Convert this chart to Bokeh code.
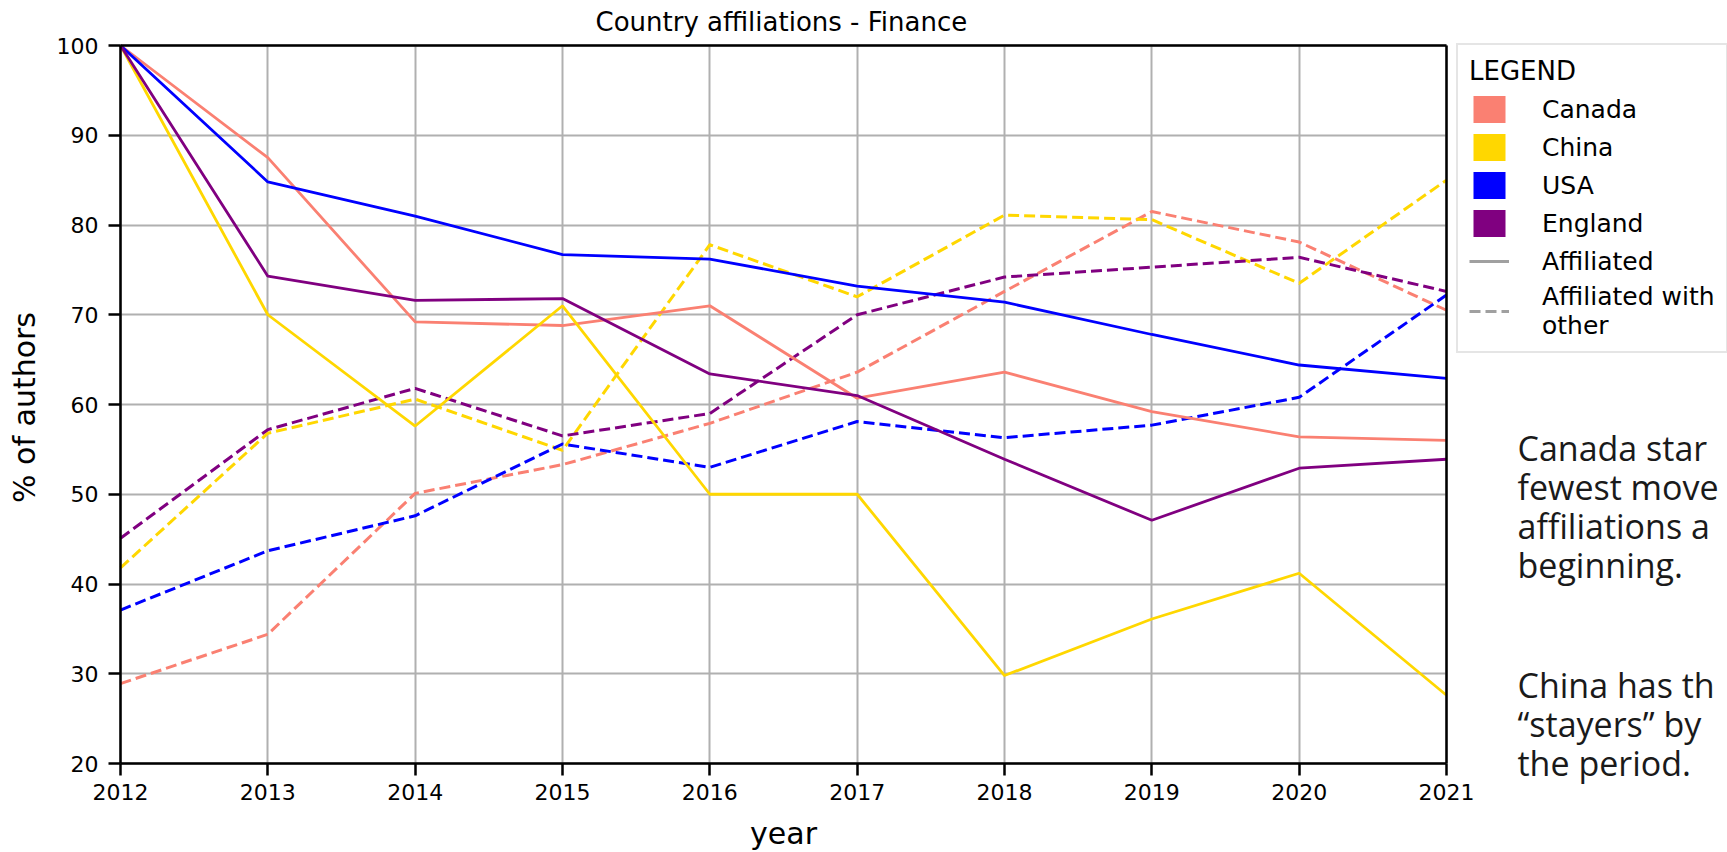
import math
from bokeh.plotting import figure
from bokeh.models import (Range1d, FixedTicker, Legend, LegendItem, Label,
                          LinearAxis, Grid, BoxAnnotation)
from bokeh.embed import file_html
from bokeh.resources import INLINE

years = [2012, 2013, 2014, 2015, 2016, 2017, 2018, 2019, 2020, 2021]

canada_aff = [100, 87.5, 69.2, 68.8, 71.0, 60.7, 63.6, 59.2, 56.4, 56.0]
canada_other = [28.9, 34.4, 50.1, 53.3, 57.9, 63.6, 72.6, 81.5, 78.1, 70.5]
china_aff = [100, 70.0, 57.6, 71.0, 50.0, 50.0, 29.8, 36.1, 41.2, 27.6]
china_other = [41.8, 56.8, 60.6, 54.9, 77.8, 72.0, 81.1, 80.6, 73.5, 85.0]
usa_aff = [100, 84.8, 81.0, 76.7, 76.2, 73.2, 71.4, 67.8, 64.4, 62.9]
usa_other = [37.1, 43.7, 47.6, 55.6, 53.0, 58.1, 56.3, 57.7, 60.8, 72.2]
england_aff = [100, 74.3, 71.6, 71.8, 63.4, 61.0, 53.9, 47.1, 52.9, 53.9]
england_other = [45.1, 57.2, 61.8, 56.5, 59.0, 70.0, 74.2, 75.3, 76.4, 72.6]

countries = ["Canada", "China", "USA", "England"]
colors = ["#FA8072", "#FFD700", "#0000FF", "#800080"]
affiliated = [canada_aff, china_aff, usa_aff, england_aff]
other = [canada_other, china_other, usa_other, england_other]

y_ticks = [20, 30, 40, 50, 60, 70, 80, 90, 100]
y_min, y_max = 20, 100

title_text = "Country affiliations - Finance"
x_label = "year"
y_label = "% of authors"
legend_title = "LEGEND"
style_labels = ["Affiliated", "Affiliated with\nother"]
note_par1 = ["Canada star", "fewest move", "affiliations a", "beginning."]
note_par2 = ["China has th", "\u201cstayers\u201d by", "the period."]

FONT = "DejaVu Sans"

# ---- layout in pixels ----
W, H = 1727, 852
FRAME_TOP = 36              # frame starts just below the title
PLOT_L, PLOT_R = 120, 1446  # x pixel of 2012 and 2021
PLOT_T, PLOT_B = 45, 763    # y pixel of 100 and 20
px_per_year = (PLOT_R - PLOT_L) / (years[-1] - years[0])
px_per_unit = (PLOT_B - PLOT_T) / (y_max - y_min)
x_start = years[0] - PLOT_L / px_per_year
x_end = years[0] + (W - PLOT_L) / px_per_year
y_start = y_min - (H - PLOT_B) / px_per_unit
y_end = y_max + (PLOT_T - FRAME_TOP) / px_per_unit

p = figure(width=W, height=H, output_backend="svg", toolbar_location=None,
           x_range=Range1d(x_start, x_end), y_range=Range1d(y_start, y_end),
           min_border_left=0, min_border_right=0, min_border_top=FRAME_TOP,
           min_border_bottom=0)
p.title.text = title_text
p.title.align = "left"
p.title.offset = 595
p.title.text_font = FONT
p.title.text_font_size = "26px"
p.title.text_font_style = "normal"
p.title.text_color = "black"
p.title.standoff = 0

p.background_fill_color = "white"
p.border_fill_color = "white"
p.outline_line_color = None

xb = (years[0], years[-1])
yb = (y_min, y_max)

xax = p.xaxis[0]
yax = p.yaxis[0]
xax.fixed_location = y_min
xax.bounds = xb
yax.fixed_location = years[0]
yax.bounds = yb

for ax in (xax, yax):
    ax.axis_line_color = "black"
    ax.axis_line_width = 2.5
    ax.major_tick_line_color = "black"
    ax.major_tick_line_width = 2.5
    ax.major_tick_in = 0
    ax.major_tick_out = 12
    ax.minor_tick_line_color = None
    ax.major_label_text_font = FONT
    ax.major_label_text_font_size = "22px"
    ax.major_label_text_color = "black"

xax.ticker = FixedTicker(ticks=years)
yax.ticker = FixedTicker(ticks=y_ticks)
xax.major_label_standoff = 8
yax.major_label_standoff = 10

# top and right spines, limited to the data box
top_axis = LinearAxis(fixed_location=y_max, bounds=xb, ticker=FixedTicker(ticks=[]),
                      axis_line_color="black", axis_line_width=2.5,
                      major_tick_line_color=None, minor_tick_line_color=None,
                      major_label_text_font_size="0px")
p.add_layout(top_axis, "above")
right_axis = LinearAxis(fixed_location=years[-1], bounds=yb, ticker=FixedTicker(ticks=[]),
                        axis_line_color="black", axis_line_width=2.5,
                        major_tick_line_color=None, minor_tick_line_color=None,
                        major_label_text_font_size="0px")
p.add_layout(right_axis, "right")

p.xgrid.ticker = FixedTicker(ticks=years)
p.ygrid.ticker = FixedTicker(ticks=y_ticks)
for g in (p.xgrid[0], p.ygrid[0]):
    g.grid_line_color = "#b0b0b0"
    g.grid_line_width = 2
if "cross_bounds" in Grid.properties():
    p.xgrid[0].cross_bounds = yb
    p.ygrid[0].cross_bounds = xb
else:
    # mask grid lines outside of the data box
    for kw in (dict(left=years[-1]), dict(right=years[0]), dict(top=y_min), dict(bottom=y_max)):
        p.add_layout(BoxAnnotation(fill_color="white", fill_alpha=1, line_color=None,
                                   level="underlay", **kw))

for c, o in zip(colors, other):
    p.line(years, o, line_color=c, line_width=3, line_dash="11 5")
for c, a in zip(colors, affiliated):
    p.line(years, a, line_color=c, line_width=2.8)

# axis titles (labels centred on the data box)
p.add_layout(Label(x=(PLOT_L + PLOT_R) / 2, y=H - 833, x_units="screen", y_units="screen",
                   text=x_label, text_font=FONT, text_font_size="30px",
                   text_align="center", text_baseline="alphabetic", text_color="black"))
p.add_layout(Label(x=24, y=H - 407, x_units="screen", y_units="screen",
                   text=y_label, text_font=FONT, text_font_size="30px", angle=math.pi / 2,
                   text_align="center", text_baseline="middle", text_color="black"))

# legend
nan = float("nan")
items = []
for name, c in zip(countries, colors):
    r = p.quad(left=[nan], right=[nan], top=[nan], bottom=[nan], fill_color=c, line_color=None)
    items.append(LegendItem(label=name, renderers=[r]))
r_solid = p.line([nan], [nan], line_color="#a0a0a0", line_width=3)
r_dash = p.line([nan], [nan], line_color="#a0a0a0", line_width=3, line_dash="11 5")
items.append(LegendItem(label=style_labels[0], renderers=[r_solid]))
items.append(LegendItem(label=style_labels[1], renderers=[r_dash]))

legend = Legend(items=items, location=(1456, H - 353), title=legend_title)
legend.glyph_width = 40
legend.glyph_height = 34
legend.spacing = 4
legend.label_standoff = 33
legend.padding = 11
legend.margin = 0
legend.title_standoff = 6
legend.label_text_font = FONT
legend.label_text_font_size = "25px"
legend.label_text_color = "black"
legend.label_text_line_height = 1.25
legend.title_text_font = FONT
legend.title_text_font_size = "26px"
legend.title_text_font_style = "normal"
legend.title_text_color = "black"
legend.border_line_color = "#cccccc"
legend.border_line_width = 2
legend.background_fill_color = "white"
legend.background_fill_alpha = 1
p.add_layout(legend)

# side note
NOTE_X = 1517
LINE_PITCH = 39.3
for start, lines in ((447, note_par1), (684, note_par2)):
    for i, t in enumerate(lines):
        p.add_layout(Label(x=NOTE_X, y=H - (start + i * LINE_PITCH), x_units="screen",
                           y_units="screen", text=t, text_font="Open Sans", text_font_size="34px",
                           text_baseline="alphabetic", text_align="left",
                           text_color="#1a1a1a"))

open("out.html", "w").write(file_html(p, INLINE))
